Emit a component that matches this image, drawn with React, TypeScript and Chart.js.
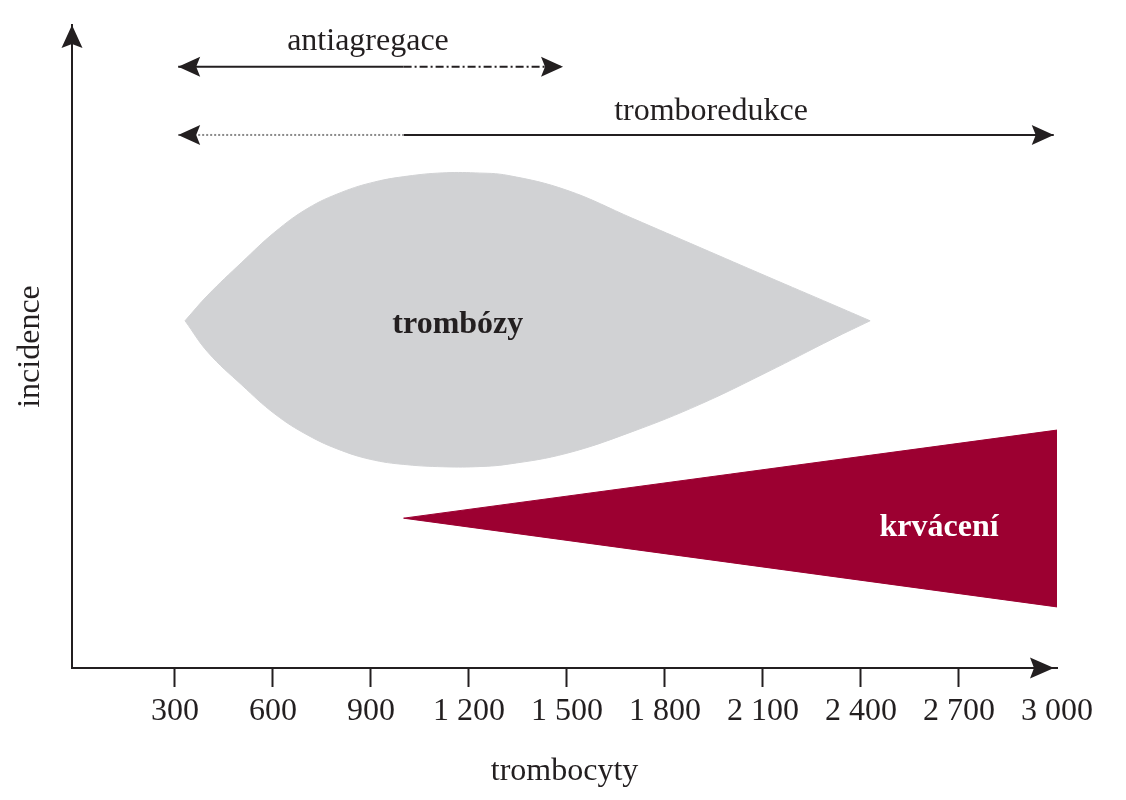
import React, { useEffect, useRef } from 'react';
import { Chart, registerables } from 'chart.js';

Chart.register(...registerables);

// osa x – trombocyty
const xTickValues = [300, 600, 900, 1200, 1500, 1800, 2100, 2400, 2700, 3000];
const xTickLabels = ['300', '600', '900', '1 200', '1 500', '1 800', '2 100', '2 400', '2 700', '3 000'];

// trombózy – horní a dolní okraj šedé kapky
const thrombosisUpperX = [331, 401, 505, 606, 707, 811, 912, 1013, 1118, 1219, 1320, 1500, 1702, 1907, 2112, 2314, 2428];
const thrombosisUpperY = [54.0, 58.0, 63.1, 67.8, 71.5, 74.0, 75.6, 76.5, 77.0, 77.0, 76.6, 74.3, 69.9, 65.4, 60.9, 56.5, 54.0];
const thrombosisLowerX = [331, 401, 505, 606, 707, 811, 912, 1013, 1118, 1219, 1320, 1500, 1702, 1907, 2112, 2314, 2428];
const thrombosisLowerY = [54.0, 49.1, 44.0, 39.5, 36.2, 33.8, 32.3, 31.6, 31.3, 31.3, 31.7, 33.4, 36.8, 41.0, 46.0, 51.2, 54.0];

// krvácení – klín
const bleedingUpperX = [1000, 3000];
const bleedingUpperY = [23.3, 37.0];
const bleedingLowerX = [1000, 3000];
const bleedingLowerY = [23.3, 9.5];

// šipky nahoře
const antiagregaceSolidX = [310, 1000];
const antiagregaceDashedX = [1000, 1488];
const antiagregaceLevel = 93.5;
const tromboredukceDottedX = [310, 1000];
const tromboredukceSolidX = [1000, 2990];
const tromboredukceLevel = 82.9;

// popisky v grafu
const noteTexts = ['antiagregace', 'tromboredukce', 'trombózy', 'krvácení'];
const noteX = [891, 1941, 1166, 2639];
const noteY = [96.1, 85.2, 52.1, 20.5];

const INK = '#231f20';
const GREY = '#d1d2d4';
const CRIMSON = '#9c0031';
const FONT = "'Liberation Serif', 'Times New Roman', serif";

const pts = (xs: number[], ys: number[]) => xs.map((x, i) => ({ x, y: ys[i] }));
const flat = (xs: number[], level: number) => xs.map((x) => ({ x, y: level }));

const drawHead = (ctx: CanvasRenderingContext2D, x: number, y: number, angle: number, len = 22, half = 10) => {
    ctx.save();
    ctx.translate(x, y);
    ctx.rotate(angle);
    ctx.beginPath();
    ctx.moveTo(0, 0);
    ctx.lineTo(-len, -half);
    ctx.lineTo(-len + 4, 0);
    ctx.lineTo(-len, half);
    ctx.closePath();
    ctx.fillStyle = INK;
    ctx.fill();
    ctx.restore();
};

const extrasPlugin = {
    id: 'extras',
    afterDraw(chart: any) {
        const { ctx, chartArea, scales } = chart;
        const xs = scales.x;
        const ys = scales.y;

        // šipky os
        drawHead(ctx, chartArea.left, chartArea.top, -Math.PI / 2, 23, 10.5);
        drawHead(ctx, chartArea.right - 3, chartArea.bottom, 0, 24, 10.5);

        // šipky rozsahů
        const ya = ys.getPixelForValue(antiagregaceLevel);
        drawHead(ctx, xs.getPixelForValue(antiagregaceSolidX[0]), ya, Math.PI);
        drawHead(ctx, xs.getPixelForValue(antiagregaceDashedX[1]), ya, 0);
        const yt = ys.getPixelForValue(tromboredukceLevel);
        drawHead(ctx, xs.getPixelForValue(tromboredukceDottedX[0]), yt, Math.PI);
        drawHead(ctx, xs.getPixelForValue(tromboredukceSolidX[1]), yt, 0);

        // texty
        ctx.save();
        ctx.textAlign = 'center';
        ctx.textBaseline = 'alphabetic';
        noteTexts.forEach((t, i) => {
            const bold = i >= 2;
            ctx.font = `${bold ? 'bold ' : ''}32px ${FONT}`;
            ctx.fillStyle = i === 3 ? '#ffffff' : INK;
            ctx.fillText(t, xs.getPixelForValue(noteX[i]), ys.getPixelForValue(noteY[i]));
        });
        ctx.restore();
    },
};

const App: React.FC = () => {
    const chartRef = useRef<HTMLCanvasElement | null>(null);
    const chartInstanceRef = useRef<Chart | null>(null);

    useEffect(() => {
        if (!chartRef.current) return;
        const ctx = chartRef.current.getContext('2d');
        if (!ctx) return;

        chartInstanceRef.current = new Chart(ctx, {
            type: 'line',
            data: {
                datasets: [
                    {
                        label: 'trombózy',
                        data: pts(thrombosisUpperX, thrombosisUpperY),
                        borderColor: GREY,
                        backgroundColor: GREY,
                        borderWidth: 1,
                        fill: false,
                        tension: 0.4,
                    },
                    {
                        label: 'trombózy (dolní okraj)',
                        data: pts(thrombosisLowerX, thrombosisLowerY),
                        borderColor: GREY,
                        backgroundColor: GREY,
                        borderWidth: 1,
                        fill: '-1',
                        tension: 0.4,
                    },
                    {
                        label: 'krvácení',
                        data: pts(bleedingUpperX, bleedingUpperY),
                        borderColor: CRIMSON,
                        backgroundColor: CRIMSON,
                        borderWidth: 1,
                        fill: false,
                    },
                    {
                        label: 'krvácení (dolní okraj)',
                        data: pts(bleedingLowerX, bleedingLowerY),
                        borderColor: CRIMSON,
                        backgroundColor: CRIMSON,
                        borderWidth: 1,
                        fill: '-1',
                    },
                    {
                        label: 'antiagregace',
                        data: flat(antiagregaceSolidX, antiagregaceLevel),
                        borderColor: INK,
                        borderWidth: 2,
                        fill: false,
                    },
                    {
                        label: 'antiagregace (přesah)',
                        data: flat(antiagregaceDashedX, antiagregaceLevel),
                        borderColor: INK,
                        borderWidth: 2,
                        borderDash: [8, 3, 2, 3],
                        fill: false,
                    },
                    {
                        label: 'tromboredukce (přesah)',
                        data: flat(tromboredukceDottedX, tromboredukceLevel),
                        borderColor: '#8a8a8a',
                        borderWidth: 2,
                        borderDash: [2, 2],
                        fill: false,
                    },
                    {
                        label: 'tromboredukce',
                        data: flat(tromboredukceSolidX, tromboredukceLevel),
                        borderColor: INK,
                        borderWidth: 2,
                        fill: false,
                    },
                ],
            },
            options: {
                animation: false,
                responsive: false,
                events: [],
                layout: { padding: { top: 25, right: 69, bottom: 0, left: 8 } },
                elements: { point: { radius: 0 }, line: { tension: 0 } },
                plugins: {
                    legend: { display: false },
                    tooltip: { enabled: false },
                },
                scales: {
                    x: {
                        type: 'linear',
                        min: -15,
                        max: 3000,
                        afterBuildTicks: (scale: any) => {
                            scale.ticks = xTickValues.map((v) => ({ value: v }));
                        },
                        afterFit: (scale: any) => {
                            scale.height = 132;
                        },
                        ticks: {
                            autoSkip: false,
                            maxRotation: 0,
                            padding: 5,
                            color: INK,
                            font: { family: FONT, size: 32 },
                            callback: (_v: any, i: number) => xTickLabels[i],
                        },
                        grid: {
                            drawOnChartArea: false,
                            drawTicks: true,
                            tickLength: 19,
                            tickWidth: 2,
                            tickColor: (c: any) => (c.tick && c.tick.value === 3000 ? 'rgba(0,0,0,0)' : INK),
                        },
                        border: { display: true, color: INK, width: 2 },
                        title: {
                            display: true,
                            text: 'trombocyty',
                            color: INK,
                            font: { family: FONT, size: 32 },
                            padding: 9,
                        },
                    },
                    y: {
                        type: 'linear',
                        min: 0,
                        max: 100,
                        afterFit: (scale: any) => {
                            scale.width = 64;
                        },
                        ticks: { display: false },
                        grid: { drawOnChartArea: false, drawTicks: false },
                        border: { display: true, color: INK, width: 2 },
                        title: {
                            display: true,
                            text: 'incidence',
                            color: INK,
                            font: { family: FONT, size: 32 },
                            padding: 3,
                        },
                    },
                },
            } as any,
            plugins: [extrasPlugin],
        });

        return () => {
            if (chartInstanceRef.current) {
                chartInstanceRef.current.destroy();
                chartInstanceRef.current = null;
            }
        };
    }, []);

    return (
        <div style={{ position: 'fixed', left: 0, top: 0, width: 1126, height: 800, background: '#ffffff' }}>
            <canvas ref={chartRef} width={1126} height={800} style={{ display: 'block' }}></canvas>
        </div>
    );
};

export default App;
